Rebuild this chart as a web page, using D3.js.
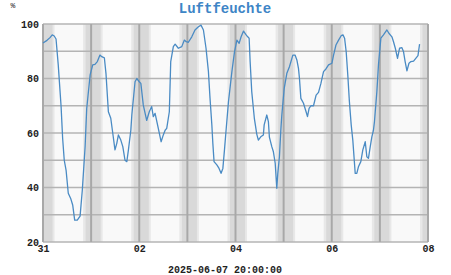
<!DOCTYPE html>
<html lang="de">
  <head>
    <meta charset="UTF-8" />
    <script src="https://d3js.org/d3.v7.min.js"></script>
    <title>Luftfeuchte</title>
    <style>
      body { margin: 0; background: #fff; }
    </style>
  </head>
  <body>
    <div id="chart"></div>
    <script>
      // hours since 2025-05-31 00:00 and relative humidity in %
      const hours = [
        0, 2, 3.5, 4.6, 5.6, 6.5, 7.6, 9, 9.8, 10.6, 11.5, 12.6, 13.8, 14.8, 15.8, 17.1,
        18.5, 19.6, 21, 21.8, 23.5, 24.8, 25.9, 27.1, 28.4, 29.3, 30.6, 31.4, 32.6, 33.8,
        34.6, 35.9, 36.8, 37.6, 38.8, 39.8, 40.9, 41.8, 42.6, 43.8, 44.3, 45.9, 46.8, 48,
        48.8, 50, 51.7, 53, 54.2, 55, 55.9, 57.5, 58.9, 60, 60.9, 61.7, 63, 63.7, 65,
        65.9, 67.5, 69.2, 70.5, 71.4, 72.5, 74.2, 75.8, 77.5, 78.8, 80, 81.3, 82.5, 83.3,
        84.2, 84.7, 85.3, 86.7, 87.8, 88.8, 89.7, 90.5, 91.3, 92.5, 94.2, 95.5, 96.7,
        97.8, 98.8, 100, 101.3, 102.1, 102.8, 103.3, 104.1, 105.4, 106.6, 107.4, 108.6,
        109.9, 110.3, 111.6, 112.4, 112.9, 114.1, 114.9, 115.8, 116.6, 117.1, 117.9,
        118.6, 119.1, 120.3, 121.6, 122.9, 124.6, 125.7, 126.6, 127.4, 127.9, 128.6,
        129.9, 131.2, 131.9, 132.7, 133.6, 134.9, 136.2, 137.4, 138.6, 139.9, 141.1,
        142.4, 144.1, 144.9, 146.1, 147.4, 148.7, 149.6, 150.4, 151.2, 152, 152.8, 153.7,
        154.5, 155.7, 156.5, 157.3, 158.5, 159.5, 160.7, 161.5, 162.3, 163.2, 164, 164.8,
        165.3, 166.5, 167.3, 168.5, 169.8, 171.5, 172.5, 174, 174.8, 175.7, 176.8, 177.8,
        179, 179.8, 180.6, 181.5, 182.5, 183.5, 184.8, 186.1, 187, 187.8
      ];
      const humidity = [
        93, 94, 95, 96, 95.6, 94.5, 85, 70, 58, 50, 46.4, 37.9, 36, 33.6, 28, 28,
        29.5, 39, 55, 69, 81.3, 85, 85.2, 86.2, 88.6, 88, 87.6, 81.9, 67.8, 65.4,
        61, 53.8, 56.2, 59.3, 57.4, 55, 50, 49.5, 53.8, 61, 66.6, 78.8, 80, 78.8,
        78.2, 70.3, 64.6, 67.8, 69.7, 66, 67.2, 61.7, 56.8, 59.3, 61, 61.7, 67.8, 86.2, 91.7,
        92.6, 91.1, 91.7, 94.1, 93.5, 93.3, 95.3, 97.8, 99, 99.6, 97.8, 91.1, 82.5, 72.7,
        63, 56.2, 49.5, 48.3, 47, 45.2, 47, 53.8, 61, 71.5, 82.5, 89.8, 94.1,
        92.9, 95.3, 97.4, 96, 95.3, 94.8, 86.2, 75.2, 65.4, 59.6, 57.4, 58.6,
        59.3, 63, 66.6, 64.2, 58.5, 55, 53.1, 48.9, 39.7, 45.2, 51.3,
        61, 66.6, 76.4, 81.9, 84.3, 88.6, 88.6, 86.8, 83.7, 80, 72.7,
        70.9, 67.8, 66, 69, 70, 70, 73.9, 74.9, 78.2, 82.5, 83.5,
        85, 85.6, 88.6, 92.3, 94.1, 95.7, 96, 94.8, 89.8, 81.3, 71.5, 63,
        57.4, 45.2, 45.2, 47.6, 49.5, 53.8, 56.8, 51.3, 50.7, 55, 58.6, 61,
        64.2, 75.2, 85, 94.8, 96, 97.8, 96.6, 95.3, 93.5, 91.1, 87.4, 91.1,
        91.3, 89.8, 86.2, 82.8, 85.6, 86.2, 86.4, 87.6, 88.4, 92.6
      ];
      const yTicks = [20, 40, 60, 80, 100];
      const xTickDays = ["2025-05-31", "2025-06-02", "2025-06-04", "2025-06-06", "2025-06-08"];
      // night: dusk start, dark start, dark end, dawn end (hours relative to midnight)
      const nightPhases = [-4, -2.75, 4.75, 5.75];
      const titleText = "Luftfeuchte";
      const stampText = "2025-06-07 20:00:00";

      const W = 451, H = 275;
      const margin = { top: 24, right: 23, bottom: 33, left: 43 };
      const width = W - margin.left - margin.right;
      const height = H - margin.top - margin.bottom;
      const mono = '"Liberation Mono", "DejaVu Sans Mono", monospace';

      const start = new Date(2025, 4, 31, 0, 0);
      const end = new Date(2025, 5, 8, 0, 0);
      const hourMs = 3600 * 1000;
      const data = hours.map((h, i) => ({ t: new Date(+start + h * hourMs), v: humidity[i] }));

      const svg = d3.select("#chart").append("svg")
        .attr("width", W).attr("height", H);

      const g = svg.append("g")
        .attr("transform", "translate(" + margin.left + "," + margin.top + ")");

      const x = d3.scaleTime().domain([start, end]).range([0, width]);
      const y = d3.scaleLinear().domain([20, 100]).range([height, 0]);

      const clip = svg.append("clipPath").attr("id", "plot")
        .append("rect").attr("width", width).attr("height", height);

      const bg = g.append("g").attr("clip-path", "url(#plot)");
      bg.append("rect").attr("width", width).attr("height", height).attr("fill", "#f9f9f9");

      // night shading around every midnight
      const midnights = d3.timeDay.range(start, d3.timeDay.offset(end, 1));
      midnights.forEach((m) => {
        const p = nightPhases.map((h) => x(new Date(+m + h * hourMs)));
        bg.append("rect").attr("x", p[0]).attr("y", 0)
          .attr("width", p[3] - p[0]).attr("height", height).attr("fill", "#e8e8e8");
        bg.append("rect").attr("x", p[1]).attr("y", 0)
          .attr("width", p[2] - p[1]).attr("height", height).attr("fill", "#d9d9d9");
      });

      // grid
      g.append("g")
        .selectAll("line")
        .data(d3.range(20, 101, 10))
        .join("line")
        .attr("x1", 0).attr("x2", width)
        .attr("y1", (d) => y(d)).attr("y2", (d) => y(d))
        .attr("stroke", "#b4b4b4").attr("stroke-width", 1.5);

      g.append("g")
        .selectAll("line")
        .data(midnights.filter((d) => d <= end))
        .join("line")
        .attr("x1", (d) => x(d)).attr("x2", (d) => x(d))
        .attr("y1", 0).attr("y2", height)
        .attr("stroke", "#a8a8a8").attr("stroke-width", 2);

      // axes
      const yAxis = g.append("g")
        .call(d3.axisLeft(y).tickValues(yTicks).tickSize(0).tickPadding(4));
      yAxis.select(".domain").remove();
      yAxis.selectAll("text")
        .style("font-family", mono).style("font-size", "10px")
        .style("font-weight", "bold").attr("fill", "#222");

      const xAxis = g.append("g")
        .attr("transform", "translate(0," + height + ")")
        .call(d3.axisBottom(x)
          .tickValues(xTickDays.map((s) => d3.timeParse("%Y-%m-%d")(s)))
          .tickFormat(d3.timeFormat("%d"))
          .tickSize(0).tickPadding(3));
      xAxis.select(".domain").remove();
      xAxis.selectAll("text")
        .style("font-family", mono).style("font-size", "10px")
        .style("font-weight", "bold").attr("fill", "#222");

      // humidity line
      const line = d3.line().x((d) => x(d.t)).y((d) => y(d.v));
      g.append("path")
        .datum(data)
        .attr("fill", "none")
        .attr("stroke", "#4a8bc4")
        .attr("stroke-width", 1.3)
        .attr("stroke-linejoin", "round")
        .attr("d", line);

      // labels
      svg.append("text")
        .attr("x", 225).attr("y", 13)
        .attr("text-anchor", "middle")
        .style("font-family", mono).style("font-size", "14px")
        .style("font-weight", "bold").attr("fill", "#3d85c6")
        .text(titleText);

      svg.append("text")
        .attr("x", 13).attr("y", 8)
        .attr("text-anchor", "middle")
        .style("font-family", mono).style("font-size", "8px")
        .attr("fill", "#222")
        .text("%");

      svg.append("text")
        .attr("x", 225).attr("y", 273)
        .attr("text-anchor", "middle")
        .style("font-family", mono).style("font-size", "10px")
        .style("font-weight", "bold").attr("fill", "#222")
        .text(stampText);
    </script>
  </body>
</html>
